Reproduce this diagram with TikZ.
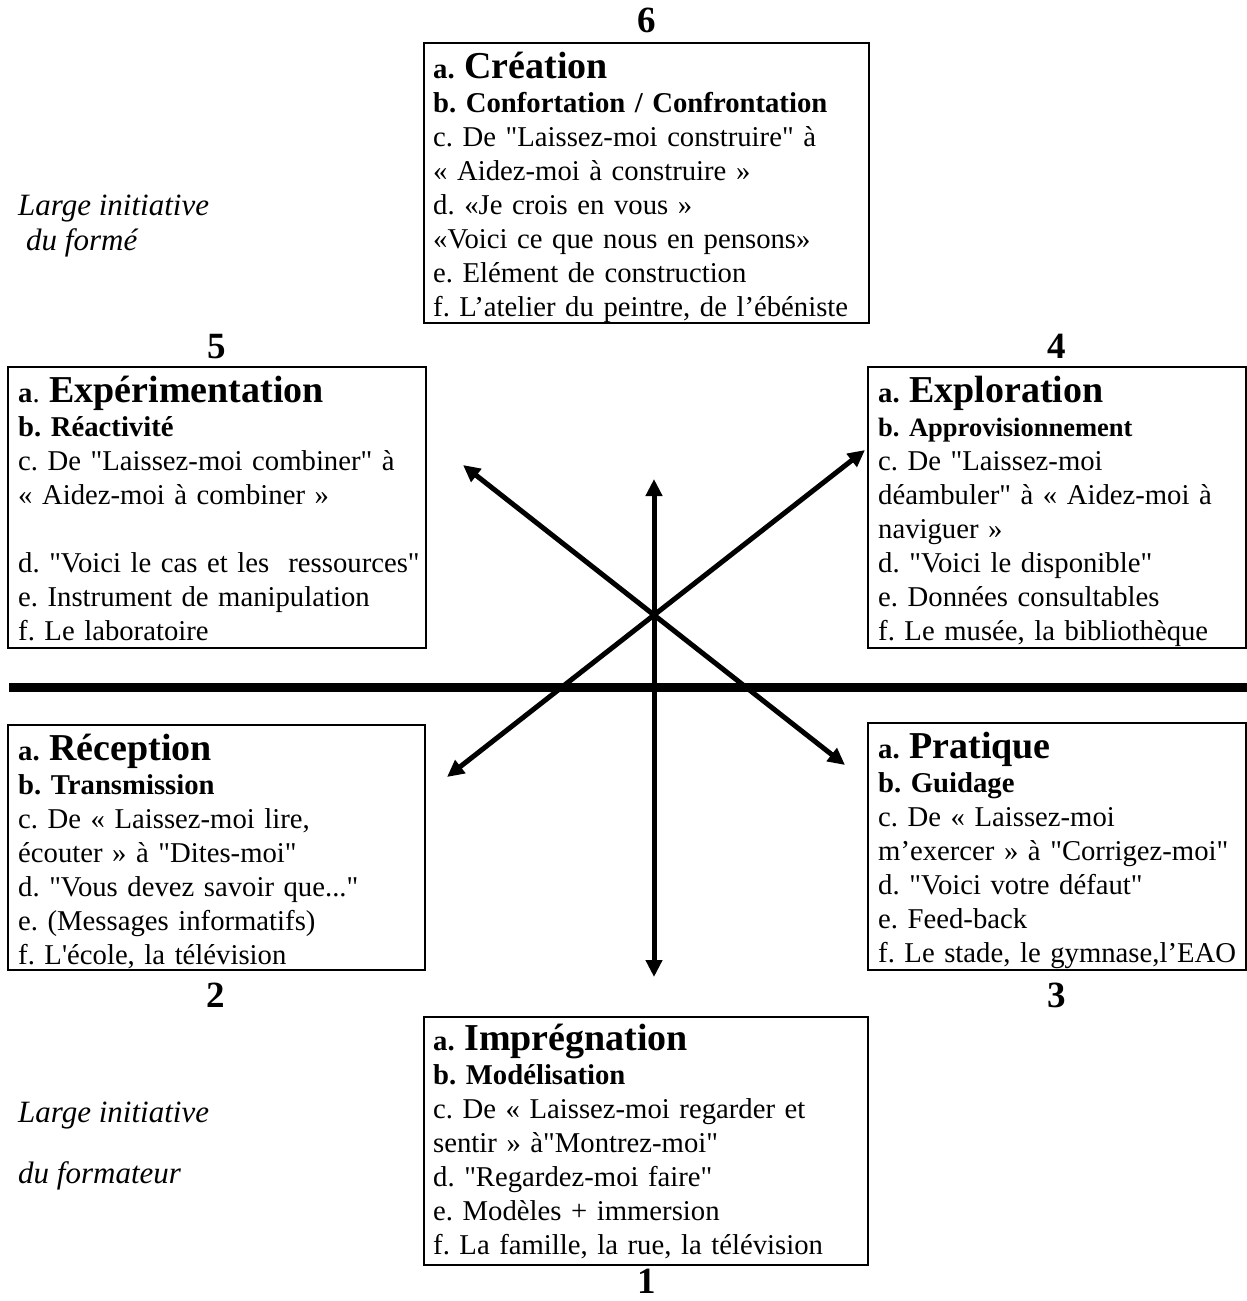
\documentclass[tikz,border=0pt]{standalone}
\usepackage{fontspec}
\newfontfamily\tnr{Liberation Serif}
\usetikzlibrary{arrows.meta}
\hyphenpenalty=10000
\begin{document}
\frenchspacing
\begin{tikzpicture}[x=1pt,y=-1pt,
  box/.style={draw, line width=2.5pt, inner sep=0pt, outer sep=0pt},
  txt/.style={anchor=base west, inner sep=0pt, align=left, text width=600pt,
    font=\tnr\fontsize{28.7}{34}\selectfont},
  num/.style={anchor=base, inner sep=0pt, font=\tnr\bfseries\fontsize{37}{40}\selectfont},
  side/.style={anchor=base west, inner sep=0pt, font=\tnr\itshape\fontsize{31}{34}\selectfont},
  arr/.style={line width=5pt, {Triangle[length=17pt,width=16pt]}-{Triangle[length=17pt,width=16pt]}}]
\useasboundingbox (0,0) rectangle (1247,1301);
\newcommand\hd[1]{{\fontsize{38}{34}\selectfont #1}}

% boxes
\node[box, minimum width=445pt, minimum height=280pt] (b6) at (646.5,183) {};
\node[box, minimum width=418pt, minimum height=281pt] (b5) at (217,507.5) {};
\node[box, minimum width=378pt, minimum height=281pt] (b4) at (1057,507.5) {};
\node[box, minimum width=417pt, minimum height=245pt] (b2) at (216.5,847.5) {};
\node[box, minimum width=378pt, minimum height=247pt] (b3) at (1057,846.5) {};
\node[box, minimum width=444pt, minimum height=248pt] (b1) at (646,1141) {};

% texts
\node[txt] (t6) at (433,78) {%
\textbf{a. \hd{Création}}\\
\textbf{b. Confortation / Confrontation}\\
c. De "Laissez-moi construire" à\\
« Aidez-moi à construire »\\
d. «Je crois en vous »\\
«Voici ce que nous en pensons»\\
e. Elément de construction\\
f. L’atelier du peintre, de l’ébéniste};

\node[txt] (t5) at (18,402) {%
\textbf{a}. \textbf{\hd{Expérimentation}}\\
\textbf{b. Réactivité}\\
c. De "Laissez-moi combiner" à\\
« Aidez-moi à combiner »\\[34pt]
d. "Voici le cas et les\ \ ressources"\\
e. Instrument de manipulation\\
f. Le laboratoire};

\node[txt] (t4) at (878,402) {%
\textbf{a. \hd{Exploration}}\\
{\bfseries\fontsize{26.5}{34}\selectfont b. Approvisionnement}\\
c. De "Laissez-moi\\
déambuler" à « Aidez-moi à\\
naviguer »\\
d. "Voici le disponible"\\
e. Données consultables\\
f. Le musée, la bibliothèque};

\node[txt] (t2) at (18,760) {%
\textbf{a. \hd{Réception}}\\
\textbf{b. Transmission}\\
c. De « Laissez-moi lire,\\
écouter » à "Dites-moi"\\
d. "Vous devez savoir que..."\\
e. (Messages informatifs)\\
f. L'école, la télévision};

\node[txt] (t3) at (878,758) {%
\textbf{a. \hd{Pratique}}\\
\textbf{b. Guidage}\\
c. De « Laissez-moi\\
m’exercer » à "Corrigez-moi"\\
d. "Voici votre défaut"\\
e. Feed-back\\
f. Le stade, le gymnase,l’EAO};

\node[txt] (t1) at (433,1050) {%
\textbf{a. \hd{Imprégnation}}\\
\textbf{b. Modélisation}\\
c. De « Laissez-moi regarder et\\
sentir » à"Montrez-moi"\\
d. "Regardez-moi faire"\\
e. Modèles + immersion\\
f. La famille, la rue, la télévision};

% numbers
\node[num] (n6) at (647,32) {6};
\node[num] (n5) at (217,358) {5};
\node[num] (n4) at (1057,358) {4};
\node[num] (n2) at (216,1007) {2};
\node[num] (n3) at (1057,1007) {3};
\node[num] (n1) at (647,1293) {1};

% side labels
\node[side] (s1) at (18,215) {Large initiative};
\node[side] (s2) at (26,250) {du formé};
\node[side] (s3) at (18,1122) {Large initiative};
\node[side] (s4) at (18,1183) {du formateur};

% thick horizontal line
\coordinate (hl) at (9,687);
\coordinate (hr) at (1247,687);
\draw[line width=9pt] (hl) -- (hr);

% arrows
\coordinate (vt) at (654,479);
\coordinate (vb) at (654,977);
\coordinate (ul) at (463,465);
\coordinate (lr) at (845,765);
\coordinate (ur) at (865,450);
\coordinate (ll) at (447,777);
\draw[arr] (vb) -- (vt);
\draw[arr] (ul) -- (lr);
\draw[arr] (ur) -- (ll);
\end{tikzpicture}
\end{document}
